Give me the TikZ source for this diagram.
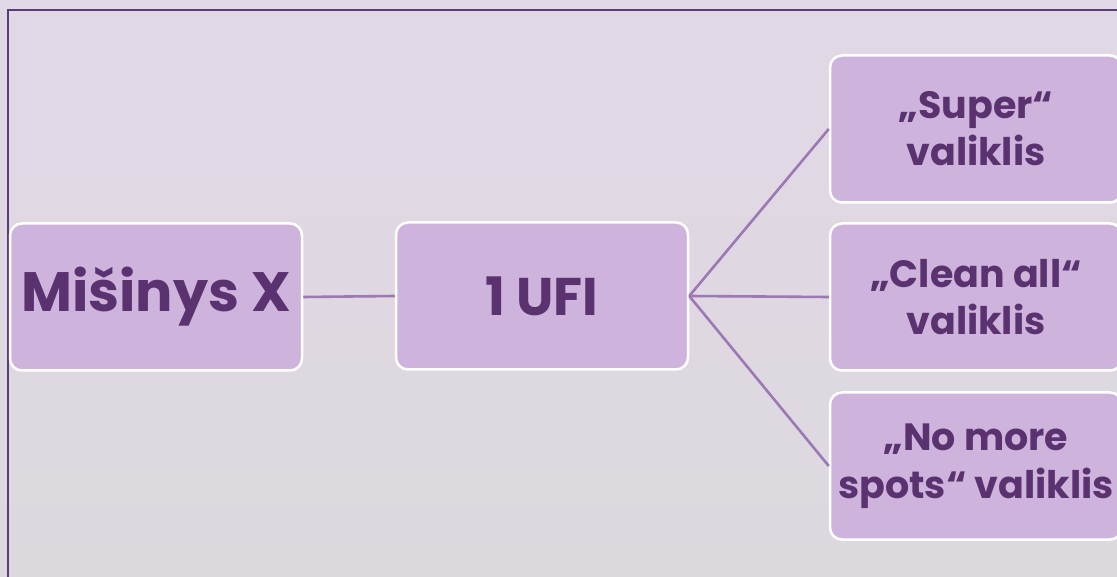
\documentclass[tikz,border=0pt]{standalone}
\usepackage{fontspec}
\setmainfont{Poppins}
\usetikzlibrary{positioning}
\definecolor{bgtop}{HTML}{E1D8E6}
\definecolor{bgbot}{HTML}{DDD8DE}
\definecolor{frame}{HTML}{5B3C7A}
\definecolor{boxfill}{HTML}{CEB4DC}
\definecolor{txt}{HTML}{5A3270}
\definecolor{conn}{HTML}{9C78B4}
\tikzset{
  box/.style={draw=white, line width=2.5pt, rounded corners=12pt, fill=boxfill,
    text=txt, align=center, font=\bfseries, inner sep=0pt,
    minimum width=292pt, minimum height=147pt},
  conn/.style={draw=conn, line width=2.6pt}
}
\begin{document}
\begin{tikzpicture}[x=1pt,y=-1pt]
\useasboundingbox (0,0) rectangle (1117,577);
\shade[top color=bgtop, bottom color=bgbot] (0,0) rectangle (1117,577);
\draw[frame, line width=2.5pt] (8,590) -- (8,10) -- (1130,10);
\node[box, font=\bfseries\fontsize{55.5}{62}\selectfont] (mix) at (156,297) {Mišinys X};
\node[box, font=\bfseries\fontsize{53}{58}\selectfont] (ufi) at (542,296) {1 UFI};
\node[box, font=\bfseries\fontsize{38}{47}\selectfont] (sup) at (976,129) {„Super“\\valiklis};
\node[box, font=\bfseries\fontsize{38}{47}\selectfont] (cln) at (976,297) {„Clean all“\\valiklis};
\node[box, font=\bfseries\fontsize{38}{48}\selectfont] (nms) at (976,466) {„No more\\spots“ valiklis};
\draw[conn] (mix.east) -- (ufi.west);
\draw[conn] (ufi.east) -- (sup.west);
\draw[conn] (ufi.east) -- (cln.west);
\draw[conn] (ufi.east) -- (nms.west);
\end{tikzpicture}
\end{document}
